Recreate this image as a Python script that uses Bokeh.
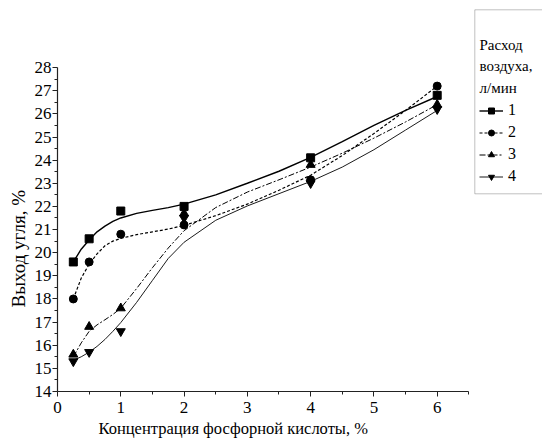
from bokeh.plotting import figure
from bokeh.models import Range1d, FixedTicker, Title, Legend, LegendItem, Label, BoxAnnotation
from bokeh.embed import file_html
from bokeh.resources import INLINE

# ---- data ----
conc = [0.25, 0.5, 1, 2, 4, 6]
yield_1 = [19.6, 20.6, 21.8, 22.0, 24.1, 26.8]
yield_2 = [18.0, 19.6, 20.8, 21.2, 23.15, 27.2]
yield_3 = [15.6, 16.8, 17.6, 21.7, 23.8, 26.4]
yield_4 = [15.3, 15.7, 16.6, 21.5, 23.0, 26.2]

# smoothed fit curves as drawn in the reference
fit_conc = [0.25, 0.375, 0.5, 0.625, 0.75, 0.875, 1.0, 1.25, 1.5, 1.75, 2.0, 2.5, 3.0, 3.5, 4.0, 4.5, 5.0, 5.5, 6.0]
fit_1 = [19.6, 20.15, 20.55, 20.9, 21.15, 21.35, 21.5, 21.7, 21.83, 21.95, 22.1, 22.5, 23.0, 23.52, 24.12, 24.8, 25.5, 26.15, 26.75]
fit_2 = [18.0, 18.9, 19.5, 19.95, 20.3, 20.5, 20.62, 20.78, 20.9, 21.02, 21.18, 21.6, 22.1, 22.7, 23.35, 24.2, 25.15, 26.15, 27.2]
fit_3 = [15.5, 16.1, 16.6, 16.88, 17.1, 17.33, 17.6, 18.45, 19.35, 20.2, 20.95, 21.95, 22.62, 23.15, 23.7, 24.3, 24.95, 25.65, 26.4]
fit_4 = [15.35, 15.5, 15.7, 15.95, 16.25, 16.6, 16.98, 17.85, 18.8, 19.75, 20.45, 21.4, 22.02, 22.55, 23.08, 23.7, 24.45, 25.3, 26.15]

series_labels = ["1", "2", "3", "4"]
legend_title_lines = ["Расход", "воздуха,", "л/мин"]
x_ticks = [0, 1, 2, 3, 4, 5, 6]
x_minor_ticks = [0.5, 1.5, 2.5, 3.5, 4.5, 5.5, 6.5]
y_ticks = [14, 15, 16, 17, 18, 19, 20, 21, 22, 23, 24, 25, 26, 27, 28]
y_minor_ticks = [14.5, 15.5, 16.5, 17.5, 18.5, 19.5, 20.5, 21.5, 22.5, 23.5, 24.5, 25.5, 26.5, 27.5]
x_title = "Концентрация фосфорной кислоты, %"
y_title = "Выход угля, %"

SERIF = "'Liberation Serif', 'Times New Roman', serif"

p = figure(width=542, height=446, output_backend="svg", toolbar_location=None, title=None,
           x_range=Range1d(0, 7.664), y_range=Range1d(14, 30.9),
           min_border_left=57, min_border_right=0, min_border_top=0, min_border_bottom=55)
p.outline_line_color = None
p.grid.visible = False
p.background_fill_color = "white"

for ax, ticks, minor, bnds in ((p.xaxis[0], x_ticks, x_minor_ticks, (0, 6.5)),
                               (p.yaxis[0], y_ticks, y_minor_ticks, (14, 28))):
    ax.ticker = FixedTicker(ticks=ticks, minor_ticks=minor)
    ax.bounds = bnds
    ax.axis_line_color = "#222222"
    ax.axis_line_width = 1.2
    ax.major_tick_line_color = "#222222"
    ax.minor_tick_line_color = "#222222"
    ax.major_tick_in = 0
    ax.major_tick_out = 5
    ax.minor_tick_in = 0
    ax.minor_tick_out = 3
    ax.major_label_text_font = SERIF
    ax.major_label_text_font_size = "17px"
    ax.major_label_text_color = "black"
p.xaxis[0].major_label_standoff = 5
p.yaxis[0].major_label_standoff = 1

p.add_layout(Title(text=y_title, align="left", offset=84, standoff=6, text_font=SERIF,
                   text_font_size="19px", text_font_style="normal", text_color="black"), "left")
p.add_layout(Title(text=x_title, align="left", offset=41, standoff=2, text_font=SERIF,
                   text_font_size="16.5px", text_font_style="normal", text_color="black"), "below")

fits = [fit_1, fit_2, fit_3, fit_4]
pts = [yield_1, yield_2, yield_3, yield_4]
dashes = ["solid", "3 2", "6 2 2 2", "solid"]
widths = [1.4, 1.2, 1.0, 0.9]
markers = ["square", "circle", "triangle", "inverted_triangle"]
msizes = [8, 8, 9, 9]

items = []
for fy, py, dsh, w, mk, ms, lab in zip(fits, pts, dashes, widths, markers, msizes, series_labels):
    lr = p.line(fit_conc, fy, line_color="black", line_width=w, line_dash=dsh)
    sr = p.scatter(conc, py, marker=mk, size=ms, fill_color="black", line_color="black")
    items.append(LegendItem(label=lab, renderers=[lr, sr]))

legend = Legend(items=items, location=(422, 204), padding=0, spacing=0, margin=0,
                glyph_width=24, glyph_height=15, label_height=22, label_standoff=5,
                label_text_font=SERIF, label_text_font_size="16px", label_text_color="black",
                border_line_alpha=0, background_fill_alpha=0)
p.add_layout(legend, "center")

p.add_layout(BoxAnnotation(left=474.3, right=700, top=9.3, bottom=193.3,
                           left_units="canvas", right_units="canvas",
                           top_units="canvas", bottom_units="canvas",
                           fill_alpha=0, line_color="#333333", line_width=1))
for i, t in enumerate(legend_title_lines):
    p.add_layout(Label(x=479, y=44.3 + i * 21.5, x_units="canvas", y_units="canvas", text=t,
                       text_font=SERIF, text_font_size="15px", text_color="black",
                       text_baseline="middle"))

open("out.html", "w").write(file_html(p, INLINE))
